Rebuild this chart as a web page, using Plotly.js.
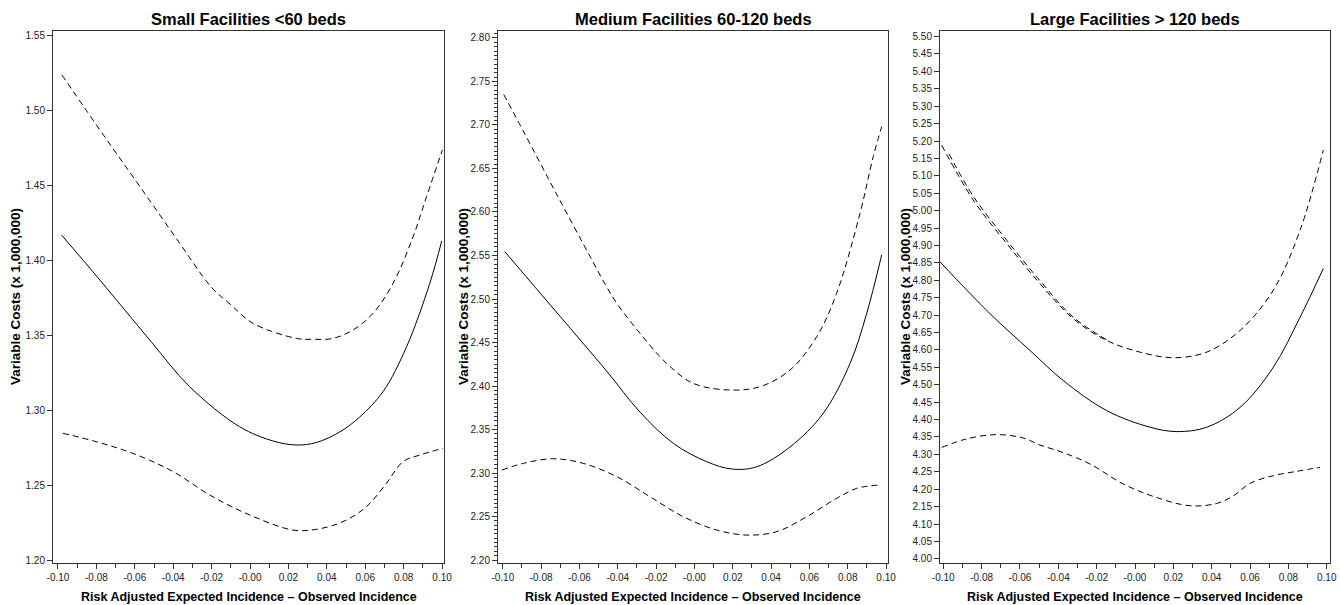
<!DOCTYPE html>
<html>
<head>
<meta charset="utf-8">
<script src="https://cdn.plot.ly/plotly-3.0.1.min.js"></script>
<style>html,body{margin:0;padding:0;background:#fff}#chart{width:1340px;height:605px}</style>
</head>
<body>
<div id="chart"></div>
<script>
// ---------- Data ----------
const panelTitles = ["Small Facilities <60 beds", "Medium Facilities 60-120 beds", "Large Facilities > 120 beds"];
const yTitle = "Variable Costs (x 1,000,000)";
const xTitle = "Risk Adjusted Expected Incidence \u2013 Observed Incidence";

const xTickVals = [-0.10, -0.08, -0.06, -0.04, -0.02, 0.00, 0.02, 0.04, 0.06, 0.08, 0.10];
const xTickText = ["-0.10", "-0.08", "-0.06", "-0.04", "-0.02", "-0.00", "0.02", "0.04", "0.06", "0.08", "0.10"];

const smallYTickVals = [1.20, 1.25, 1.30, 1.35, 1.40, 1.45, 1.50, 1.55];
const smallYTickText = ["1.20", "1.25", "1.30", "1.35", "1.40", "1.45", "1.50", "1.55"];
const mediumYTickVals = [2.20, 2.25, 2.30, 2.35, 2.40, 2.45, 2.50, 2.55, 2.60, 2.65, 2.70, 2.75, 2.80];
const mediumYTickText = ["2.20", "2.25", "2.30", "2.35", "2.40", "2.45", "2.50", "2.55", "2.60", "2.65", "2.70", "2.75", "2.80"];
const largeYTickVals = [4.00, 4.05, 4.10, 4.15, 4.20, 4.25, 4.30, 4.35, 4.40, 4.45, 4.50, 4.55, 4.60, 4.65, 4.70, 4.75,
  4.80, 4.85, 4.90, 4.95, 5.00, 5.05, 5.10, 5.15, 5.20, 5.25, 5.30, 5.35, 5.40, 5.45, 5.50];
const largeYTickText = ["4.00", "4.05", "4.10", "2.15", "4.20", "4.25", "4.30", "4.35", "4.40", "4.45", "4.50", "4.55", "4.60", "4.65", "4.70", "4.75",
  "4.80", "4.85", "4.90", "4.95", "5.00", "5.05", "5.10", "5.15", "5.20", "5.25", "5.30", "5.35", "5.40", "5.45", "5.50"];

// Small facilities
const smallFitX = [-0.0981, -0.0782, -0.0522, -0.0314, -0.0054, 0.0120, 0.0242, 0.0346, 0.0467, 0.0571, 0.0693, 0.0815, 0.0936, 0.0998];
const smallFit  = [1.417, 1.387, 1.3469, 1.3157, 1.289, 1.2795, 1.2768, 1.2785, 1.2855, 1.2955, 1.3125, 1.3424, 1.3848, 1.413];
const smallUpperX = [-0.098, -0.0748, -0.0574, -0.0366, -0.020, -0.010, 0.0016, 0.0242, 0.0328, 0.0432, 0.0536, 0.0640, 0.0745, 0.0849, 0.0919, 0.1002];
const smallUpper  = [1.524, 1.481, 1.4495, 1.4115, 1.3820, 1.3705, 1.358, 1.348, 1.3474, 1.348, 1.3536, 1.3647, 1.3848, 1.4159, 1.4426, 1.474];
const smallLowerX = [-0.0974, -0.080, -0.061, -0.040, -0.021, 0.000, 0.0224, 0.0346, 0.0484, 0.0606, 0.071, 0.0797, 0.0884, 0.1005];
const smallLower  = [1.2846, 1.279, 1.2712, 1.259, 1.2434, 1.230, 1.220, 1.2205, 1.2256, 1.2356, 1.2512, 1.2657, 1.2701, 1.2746];

// Medium facilities
const mediumFitX = [-0.099, -0.080, -0.060, -0.045, -0.0284, -0.011, 0.0064, 0.0195, 0.0325, 0.0499, 0.0672, 0.0812, 0.0899, 0.0977];
const mediumFit  = [2.5545, 2.5055, 2.454, 2.415, 2.3700, 2.3341, 2.313, 2.3046, 2.3072, 2.330, 2.3686, 2.426, 2.4836, 2.5506];
const mediumUpperX = [-0.0995, -0.0893, -0.0718, -0.0545, -0.0466, -0.0405, -0.0284, -0.0145, -0.0006, 0.0186, 0.0342, 0.0499, 0.0638, 0.0742, 0.0864, 0.0933, 0.0977];
const mediumUpper  = [2.735, 2.693, 2.620, 2.549, 2.517, 2.495, 2.4606, 2.426, 2.403, 2.3954, 2.3992, 2.4184, 2.4567, 2.5066, 2.5985, 2.6636, 2.698];
const mediumLowerX = [-0.1005, -0.0893, -0.0736, -0.058, -0.0405, -0.0232, -0.0058, 0.0116, 0.0273, 0.0429, 0.0586, 0.0742, 0.0847, 0.0968];
const mediumLower  = [2.3034, 2.3111, 2.3164, 2.3111, 2.2958, 2.2728, 2.2498, 2.2345, 2.2287, 2.2326, 2.2498, 2.2709, 2.2824, 2.2862];

// Large facilities
const largeFitX = [-0.1017, -0.0756, -0.0548, -0.0374, -0.0148, 0.0078, 0.0218, 0.0374, 0.0548, 0.0721, 0.0861, 0.0982];
const largeFit  = [4.853, 4.704, 4.5986, 4.512, 4.4259, 4.378, 4.3655, 4.378, 4.435, 4.55, 4.694, 4.8337];
const largeUpperX = [-0.1008, -0.0843, -0.0669, -0.0496, -0.0322, -0.0148, 0.0026, 0.020, 0.0374, 0.0548, 0.0721, 0.0861, 0.0982];
const largeUpper  = [5.188, 5.030, 4.9056, 4.7905, 4.6898, 4.6273, 4.5937, 4.5776, 4.5937, 4.656, 4.7712, 4.944, 5.174];
const largeUpper2X = [-0.097, -0.0843, -0.0669, -0.0496, -0.0322, -0.0148];
const largeUpper2  = [5.163, 5.041, 4.915, 4.799, 4.694, 4.629];
const largeLowerX = [-0.1008, -0.0878, -0.0721, -0.0583, -0.0496, -0.0374, -0.0235, -0.0061, 0.0113, 0.0287, 0.0426, 0.0513, 0.060, 0.0721, 0.0843, 0.0965];
const largeLower  = [4.320, 4.3445, 4.3568, 4.347, 4.327, 4.305, 4.2725, 4.215, 4.176, 4.1525, 4.159, 4.181, 4.2167, 4.2388, 4.2512, 4.2627];

// ---------- Build chart ----------
const FONT = "Liberation Sans, Arial, Helvetica, sans-serif";
const DASH = "6px,4px";
function line(x, y, ax, dashed) {
  return {
    type: "scatter", mode: "lines", x: x, y: y,
    xaxis: "x" + ax, yaxis: "y" + ax, hoverinfo: "skip",
    line: { color: "#000", width: 1, shape: "spline", smoothing: 1.0, dash: dashed ? DASH : "solid" }
  };
}
const data = [
  line(smallFitX, smallFit, "", false),
  line(smallUpperX, smallUpper, "", true),
  line(smallLowerX, smallLower, "", true),
  line(mediumFitX, mediumFit, "2", false),
  line(mediumUpperX, mediumUpper, "2", true),
  line(mediumLowerX, mediumLower, "2", true),
  line(largeFitX, largeFit, "3", false),
  line(largeUpperX, largeUpper, "3", true),
  line(largeUpper2X, largeUpper2, "3", true),
  line(largeLowerX, largeLower, "3", true)
];

const W = 1340, H = 605;
const plotTop = 31, plotBottom = 563;
const yDom = [(H - plotBottom) / H, (H - plotTop) / H];
const panels = [
  { l: 53, r: 444, xr: [-0.1026, 0.1010], yr: [1.198, 1.5533], tv: smallYTickVals, tt: smallYTickText, minorY: null, ytx: 15 },
  { l: 498, r: 888, xr: [-0.1025, 0.1010], yr: [2.1966, 2.808], tv: mediumYTickVals, tt: mediumYTickText, minorY: 0.005, ytx: 463 },
  { l: 940, r: 1330, xr: [-0.1017, 0.1017], yr: [3.988, 5.516], tv: largeYTickVals, tt: largeYTickText, minorY: null, ytx: 905 }
];

const layout = {
  width: W, height: H,
  margin: { l: 0, r: 0, t: 0, b: 0, pad: 0 },
  paper_bgcolor: "#fff", plot_bgcolor: "#fff",
  showlegend: false,
  font: { family: FONT, color: "#000", size: 10 },
  annotations: []
};

panels.forEach((p, i) => {
  const sfx = i === 0 ? "" : String(i + 1);
  const xa = {
    domain: [p.l / W, p.r / W], range: p.xr, anchor: "y" + sfx,
    showgrid: false, zeroline: false, showline: true, mirror: true, linecolor: "#333", linewidth: 1,
    ticks: "outside", ticklen: 5, tickwidth: 1, tickcolor: "#333",
    tickmode: "array", tickvals: xTickVals, ticktext: xTickText,
    tickfont: { family: FONT, size: 10, color: "#222" },
    minor: { tickmode: "linear", tick0: -0.1, dtick: 0.01, ticks: "outside", ticklen: 4, tickcolor: "#333", showgrid: false }
  };
  const ya = {
    domain: yDom, range: p.yr, anchor: "x" + sfx,
    showgrid: false, zeroline: false, showline: true, mirror: true, linecolor: "#333", linewidth: 1,
    ticks: "outside", ticklen: 5, tickwidth: 1, tickcolor: "#333",
    tickmode: "array", tickvals: p.tv, ticktext: p.tt,
    tickfont: { family: FONT, size: 10, color: "#222" }
  };
  if (p.minorY) {
    ya.minor = { tickmode: "linear", tick0: 2.2, dtick: p.minorY, ticks: "outside", ticklen: 3, tickcolor: "#333", showgrid: false };
  }
  layout["xaxis" + sfx] = xa;
  layout["yaxis" + sfx] = ya;

  const cx = (p.l + p.r) / 2 / W;
  layout.annotations.push({
    text: "<b>" + panelTitles[i] + "</b>", xref: "paper", yref: "paper",
    x: cx, y: (H - 19) / H, xanchor: "center", yanchor: "middle", showarrow: false,
    font: { family: FONT, size: 16.5, color: "#000" }
  });
  layout.annotations.push({
    text: "<b>" + xTitle + "</b>", xref: "paper", yref: "paper",
    x: cx, y: (H - 597) / H, xanchor: "center", yanchor: "middle", showarrow: false,
    font: { family: FONT, size: 12.5, color: "#000" }
  });
  layout.annotations.push({
    text: "<b>" + yTitle + "</b>", xref: "paper", yref: "paper", textangle: -90,
    x: p.ytx / W, y: (yDom[0] + yDom[1]) / 2, xanchor: "center", yanchor: "middle", showarrow: false,
    font: { family: FONT, size: 13.5, color: "#000" }
  });
});

Plotly.newPlot("chart", data, layout, { staticPlot: true, displayModeBar: false });
</script>
</body>
</html>
